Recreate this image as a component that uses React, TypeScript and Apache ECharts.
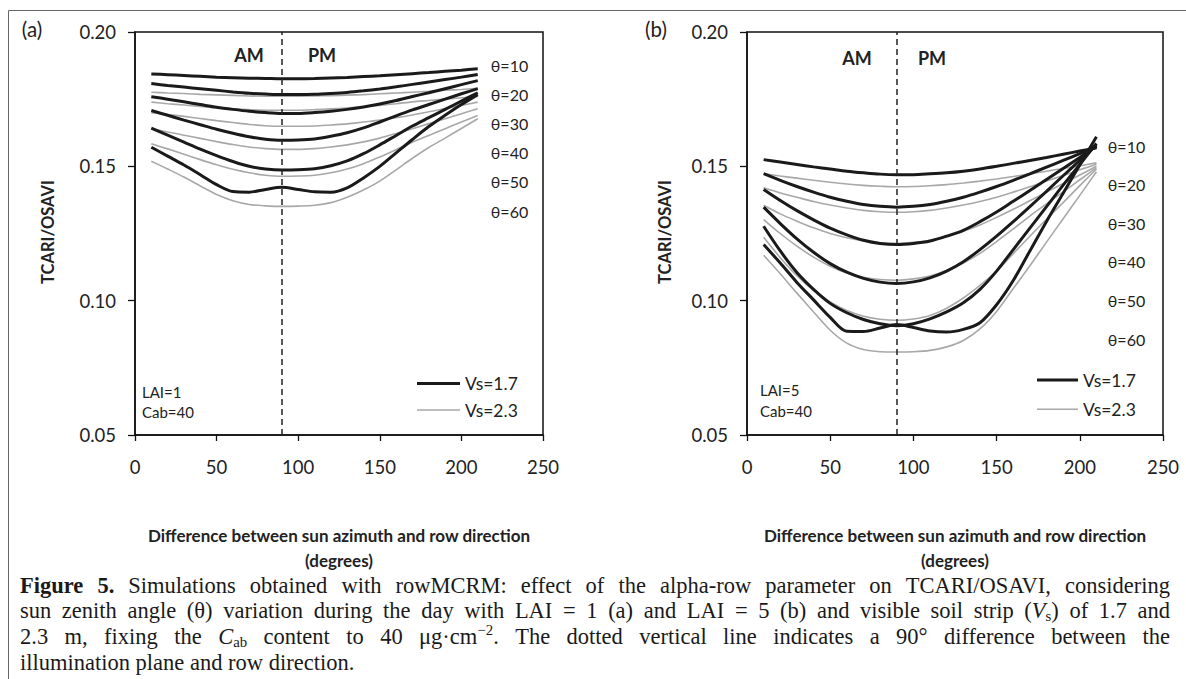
import React, { useEffect, useRef } from 'react';
import * as echarts from 'echarts';

// Difference between sun azimuth and row direction (degrees)
const ANGLES = [10, 20, 30, 40, 50, 60, 70, 80, 90, 100, 110, 120, 130, 140, 150, 160, 170, 180, 190, 200, 210];
const THETA_LABELS = ['θ=10', 'θ=20', 'θ=30', 'θ=40', 'θ=50', 'θ=60'];
const VS_LABELS = ['Vs=1.7', 'Vs=2.3'];
const DIVIDER_X = 90;

// Panel (a): LAI = 1, Cab = 40 ; Vs = 1.7 (black), theta = 10..60
const A_VS17 = [
  [0.1844, 0.1841, 0.1838, 0.1835, 0.1832, 0.1830, 0.1828, 0.1827, 0.1826, 0.1826, 0.1827, 0.1829, 0.1831, 0.1834, 0.1837, 0.1841, 0.1845, 0.1849, 0.1854, 0.1858, 0.1863],
  [0.1808, 0.1801, 0.1795, 0.1789, 0.1783, 0.1777, 0.1772, 0.1769, 0.1767, 0.1767, 0.1768, 0.1771, 0.1775, 0.1781, 0.1788, 0.1796, 0.1805, 0.1814, 0.1823, 0.1832, 0.1842],
  [0.1759, 0.1750, 0.1740, 0.1730, 0.1720, 0.1712, 0.1705, 0.1700, 0.1697, 0.1697, 0.1700, 0.1705, 0.1712, 0.1721, 0.1732, 0.1745, 0.1760, 0.1774, 0.1789, 0.1804, 0.1819],
  [0.1708, 0.1690, 0.1672, 0.1655, 0.1638, 0.1623, 0.1610, 0.1601, 0.1597, 0.1598, 0.1602, 0.1612, 0.1625, 0.1643, 0.1665, 0.1688, 0.1710, 0.1730, 0.1750, 0.1770, 0.1789],
  [0.1642, 0.1616, 0.1590, 0.1564, 0.1540, 0.1518, 0.1500, 0.1490, 0.1486, 0.1487, 0.1491, 0.1502, 0.1520, 0.1547, 0.1580, 0.1615, 0.1650, 0.1681, 0.1712, 0.1743, 0.1774],
  [0.1571, 0.1538, 0.1505, 0.1469, 0.1432, 0.1406, 0.1404, 0.1414, 0.1422, 0.1414, 0.1405, 0.1404, 0.1420, 0.1457, 0.1500, 0.1550, 0.1600, 0.1648, 0.1690, 0.1730, 0.1767],
];
// Panel (a): Vs = 2.3 (grey)
const A_VS23 = [
  [0.1776, 0.1773, 0.1771, 0.1768, 0.1766, 0.1764, 0.1762, 0.1761, 0.1761, 0.1761, 0.1762, 0.1763, 0.1765, 0.1767, 0.1770, 0.1773, 0.1776, 0.1779, 0.1783, 0.1786, 0.1790],
  [0.1739, 0.1733, 0.1728, 0.1723, 0.1718, 0.1714, 0.1711, 0.1709, 0.1709, 0.1709, 0.1711, 0.1714, 0.1717, 0.1722, 0.1727, 0.1733, 0.1740, 0.1745, 0.1750, 0.1755, 0.1760],
  [0.1700, 0.1693, 0.1686, 0.1678, 0.1670, 0.1663, 0.1656, 0.1651, 0.1649, 0.1649, 0.1650, 0.1654, 0.1658, 0.1665, 0.1672, 0.1681, 0.1691, 0.1703, 0.1715, 0.1727, 0.1739],
  [0.1640, 0.1628, 0.1616, 0.1604, 0.1592, 0.1581, 0.1572, 0.1566, 0.1563, 0.1563, 0.1566, 0.1572, 0.1580, 0.1591, 0.1605, 0.1622, 0.1640, 0.1659, 0.1677, 0.1696, 0.1714],
  [0.1584, 0.1565, 0.1545, 0.1525, 0.1506, 0.1489, 0.1476, 0.1467, 0.1463, 0.1464, 0.1467, 0.1476, 0.1490, 0.1510, 0.1535, 0.1562, 0.1590, 0.1615, 0.1640, 0.1665, 0.1689],
  [0.1519, 0.1490, 0.1460, 0.1427, 0.1395, 0.1372, 0.1358, 0.1353, 0.1351, 0.1352, 0.1355, 0.1365, 0.1385, 0.1412, 0.1445, 0.1487, 0.1530, 0.1570, 0.1605, 0.1641, 0.1677],
];
// Panel (b): LAI = 5, Cab = 40 ; Vs = 1.7 (black)
const B_VS17 = [
  [0.1525, 0.1516, 0.1507, 0.1498, 0.1490, 0.1482, 0.1476, 0.1471, 0.1469, 0.1469, 0.1472, 0.1476, 0.1482, 0.1490, 0.1500, 0.1511, 0.1522, 0.1533, 0.1545, 0.1557, 0.1569],
  [0.1473, 0.1448, 0.1425, 0.1404, 0.1385, 0.1370, 0.1358, 0.1351, 0.1348, 0.1351, 0.1358, 0.1370, 0.1385, 0.1404, 0.1425, 0.1448, 0.1472, 0.1497, 0.1522, 0.1547, 0.1572],
  [0.1414, 0.1373, 0.1335, 0.1301, 0.1270, 0.1245, 0.1225, 0.1213, 0.1209, 0.1213, 0.1222, 0.1240, 0.1262, 0.1294, 0.1330, 0.1370, 0.1410, 0.1451, 0.1492, 0.1533, 0.1575],
  [0.1348, 0.1287, 0.1230, 0.1180, 0.1138, 0.1106, 0.1083, 0.1069, 0.1064, 0.1070, 0.1085, 0.1110, 0.1145, 0.1190, 0.1240, 0.1294, 0.1350, 0.1407, 0.1465, 0.1522, 0.1580],
  [0.1277, 0.1185, 0.1105, 0.1042, 0.0990, 0.0955, 0.0930, 0.0914, 0.0907, 0.0914, 0.0932, 0.0958, 0.0992, 0.1042, 0.1110, 0.1190, 0.1270, 0.1350, 0.1430, 0.1507, 0.1585],
  [0.1209, 0.1140, 0.1068, 0.1003, 0.0938, 0.0886, 0.0885, 0.0898, 0.0911, 0.0900, 0.0887, 0.0883, 0.0893, 0.0918, 0.0985, 0.1075, 0.1185, 0.1295, 0.1400, 0.1505, 0.1610],
];
// Panel (b): Vs = 2.3 (grey)
const B_VS23 = [
  [0.1473, 0.1464, 0.1456, 0.1448, 0.1441, 0.1434, 0.1429, 0.1426, 0.1424, 0.1425, 0.1428, 0.1432, 0.1438, 0.1445, 0.1453, 0.1462, 0.1472, 0.1482, 0.1492, 0.1502, 0.1513],
  [0.1420, 0.1401, 0.1385, 0.1369, 0.1356, 0.1345, 0.1336, 0.1331, 0.1329, 0.1331, 0.1336, 0.1345, 0.1356, 0.1369, 0.1385, 0.1404, 0.1424, 0.1445, 0.1466, 0.1487, 0.1508],
  [0.1355, 0.1323, 0.1296, 0.1271, 0.1250, 0.1234, 0.1222, 0.1215, 0.1213, 0.1217, 0.1225, 0.1239, 0.1258, 0.1282, 0.1310, 0.1340, 0.1372, 0.1404, 0.1436, 0.1468, 0.1500],
  [0.1302, 0.1250, 0.1203, 0.1162, 0.1128, 0.1103, 0.1087, 0.1079, 0.1076, 0.1081, 0.1092, 0.1112, 0.1140, 0.1176, 0.1220, 0.1267, 0.1315, 0.1360, 0.1405, 0.1450, 0.1495],
  [0.1236, 0.1160, 0.1093, 0.1038, 0.0995, 0.0963, 0.0942, 0.0931, 0.0927, 0.0932, 0.0945, 0.0972, 0.1010, 0.1057, 0.1110, 0.1175, 0.1240, 0.1303, 0.1365, 0.1428, 0.1490],
  [0.1169, 0.1100, 0.1028, 0.0958, 0.0890, 0.0842, 0.0818, 0.0810, 0.0809, 0.0810, 0.0815, 0.0828, 0.0852, 0.0895, 0.0960, 0.1045, 0.1130, 0.1218, 0.1305, 0.1392, 0.1480],
];

type Seg = [string, string];
type Word = string | Seg[];
const CAPTION: { justify: boolean; words: Word[] }[] = [
  {
    justify: true,
    words: [[['Figure', 'b']], [['5.', 'b']], 'Simulations', 'obtained', 'with', 'rowMCRM:', 'effect', 'of', 'the',
      'alpha-row', 'parameter', 'on', 'TCARI/OSAVI,', 'considering'],
  },
  {
    justify: true,
    words: ['sun', 'zenith', 'angle', '(θ)', 'variation', 'during', 'the', 'day', 'with', 'LAI', '=', '1', '(a)', 'and',
      'LAI', '=', '5', '(b)', 'and', 'visible', 'soil', 'strip', [['(', ''], ['V', 'i'], ['s', 'sub'], [')', '']], 'of', '1.7', 'and'],
  },
  {
    justify: true,
    words: ['2.3', 'm,', 'fixing', 'the', [['C', 'i'], ['ab', 'sub']], 'content', 'to', '40', [['μg·cm', ''], ['−2', 'sup'], ['.', '']],
      'The', 'dotted', 'vertical', 'line', 'indicates', 'a', '90°', 'difference', 'between', 'the'],
  },
  { justify: false, words: ['illumination', 'plane', 'and', 'row', 'direction.'] },
];

const BLACK = '#1a1a1a';
const GREY = '#a8a8a8';
const SANS = 'Lato, "Open Sans", sans-serif';
const SERIF = '"Liberation Serif", "DejaVu Serif", serif';

export default function App() {
  const ref = useRef<HTMLDivElement>(null);

  useEffect(() => {
    const chart = echarts.init(ref.current!, null, { renderer: 'svg' });

    const grids = [
      { left: 135, top: 32, width: 408, height: 403 },
      { left: 747, top: 32, width: 416, height: 403 },
    ];

    const series: any[] = [];
    const addPanel = (idx: number, black: number[][], grey: number[][]) => {
      grey.forEach((vals, k) => {
        series.push({
          type: 'line', name: VS_LABELS[1], xAxisIndex: idx, yAxisIndex: idx,
          data: ANGLES.map((a, i) => [a, vals[i]]), smooth: 0.3, showSymbol: false, symbol: 'none',
          lineStyle: { color: GREY, width: 1.6 }, itemStyle: { color: GREY }, z: 2, silent: true,
          ...(k === 0 ? {
            markLine: {
              silent: true, symbol: ['none', 'none'], label: { show: false },
              lineStyle: { color: '#222', type: [6, 4], width: 1.5 },
              data: [{ xAxis: DIVIDER_X }],
            },
          } : {}),
        });
      });
      black.forEach((vals) => {
        series.push({
          type: 'line', name: VS_LABELS[0], xAxisIndex: idx, yAxisIndex: idx,
          data: ANGLES.map((a, i) => [a, vals[i]]), smooth: 0.3, showSymbol: false, symbol: 'none',
          lineStyle: { color: BLACK, width: 3 }, itemStyle: { color: BLACK }, z: 3, silent: true,
        });
      });
    };
    addPanel(0, A_VS17, A_VS23);
    addPanel(1, B_VS17, B_VS23);

    const xAxis = [0, 1].map((i) => ({
      type: 'value', gridIndex: i, min: 0, max: 250, interval: 50,
      axisLine: { show: true, lineStyle: { color: '#111', width: 1.5 } },
      axisTick: { show: true, inside: false, length: 6, lineStyle: { color: '#111', width: 1.3 } },
      splitLine: { show: false },
      axisLabel: { color: '#222', fontFamily: SANS, fontSize: 18.5, margin: 22 },
    }));
    const yAxis = [0, 1].map((i) => ({
      type: 'value', gridIndex: i, min: 0.05, max: 0.2, interval: 0.05,
      axisLine: { show: true, lineStyle: { color: '#111', width: 1.5 } },
      axisTick: { show: true, inside: false, length: 7, lineStyle: { color: '#111', width: 1.3 } },
      splitLine: { show: false },
      axisLabel: { color: '#222', fontFamily: SANS, fontSize: 18.5, margin: 19, formatter: (v: number) => v.toFixed(2) },
    }));

    const txt = (text: string, x: number, y: number, size: number, opts: any = {}) => ({
      type: 'text', x, y, silent: true, rotation: opts.rotation || 0,
      style: {
        text, fill: opts.fill || '#222', fontSize: size, fontFamily: opts.family || SANS,
        fontWeight: opts.weight || 'normal', fontStyle: opts.style || 'normal',
        textAlign: opts.align || 'center', textVerticalAlign: 'middle',
      },
    });

    const graphics: any[] = [];
    // figure frame
    graphics.push({ type: 'line', shape: { x1: 8.5, y1: 10.5, x2: 8.5, y2: 679 }, style: { stroke: '#666', lineWidth: 1 }, silent: true });
    graphics.push({ type: 'line', shape: { x1: 8.5, y1: 10.5, x2: 1186, y2: 10.5 }, style: { stroke: '#666', lineWidth: 1 }, silent: true });

    graphics.push(txt('(a)', 32, 29, 20.5));
    graphics.push(txt('(b)', 656, 29, 20.5));

    const panelText = [
      { yTitleX: 48, cx: 339, am: 249, pm: 322, amY: 55, thX: 509.5, thY: 65, thStep: 29.2,
        leg: [417, 460, 465, 383.5, 410], lai: 'LAI=1', laiX: 142, laiY: 391.5 },
      { yTitleX: 665, cx: 955, am: 857, pm: 932, amY: 58, thX: 1126.5, thY: 146, thStep: 38.6,
        leg: [1037, 1078, 1083, 380, 409.3], lai: 'LAI=5', laiX: 760, laiY: 390 },
    ];
    panelText.forEach((p) => {
      graphics.push(txt('TCARI/OSAVI', p.yTitleX, 232, 16.5, { weight: 'bold', rotation: Math.PI / 2 }));
      graphics.push(txt('Difference between sun azimuth and row direction', p.cx, 535, 17, { weight: 'bold' }));
      graphics.push(txt('(degrees)', p.cx, 560, 17, { weight: 'bold' }));
      graphics.push(txt('AM', p.am, p.amY, 18, { weight: 'bold' }));
      graphics.push(txt('PM', p.pm, p.amY, 18, { weight: 'bold' }));
      THETA_LABELS.forEach((t, k) => graphics.push(txt(t, p.thX, p.thY + k * p.thStep, 16)));
      const [lx1, lx2, tx, ly1, ly2] = p.leg;
      graphics.push({ type: 'line', shape: { x1: lx1, y1: ly1, x2: lx2, y2: ly1 }, style: { stroke: BLACK, lineWidth: 3 }, silent: true });
      graphics.push({ type: 'line', shape: { x1: lx1, y1: ly2, x2: lx2, y2: ly2 }, style: { stroke: GREY, lineWidth: 1.6 }, silent: true });
      graphics.push(txt(VS_LABELS[0], tx, ly1, 17.5, { align: 'left' }));
      graphics.push(txt(VS_LABELS[1], tx, ly2, 17.5, { align: 'left' }));
      graphics.push(txt(p.lai, p.laiX, p.laiY, 15, { align: 'left' }));
      graphics.push(txt('Cab=40', p.laiX, p.laiY + 20.7, 15, { align: 'left' }));
    });

    // caption, justified
    const ctx = document.createElement('canvas').getContext('2d')!;
    const CAP_SIZE = 22.5;
    const CAP_L = 20;
    const CAP_R = 1170;
    const CAP_Y0 = 585;
    const CAP_LH = 25.8;
    const segFont = (kind: string) => {
      const small = kind === 'sub' || kind === 'sup';
      return {
        size: small ? CAP_SIZE * 0.66 : CAP_SIZE,
        weight: kind === 'b' ? 'bold' : 'normal',
        style: kind === 'i' ? 'italic' : 'normal',
        dy: kind === 'sub' ? 5 : kind === 'sup' ? -7 : 0,
      };
    };
    const measure = (t: string, kind: string) => {
      const f = segFont(kind);
      ctx.font = `${f.style} ${f.weight} ${f.size}px ${SERIF}`;
      return ctx.measureText(t).width;
    };
    CAPTION.forEach((line, li) => {
      const words: Seg[][] = line.words.map((w) => (typeof w === 'string' ? [[w, ''] as Seg] : w));
      const widths = words.map((segs) => segs.reduce((s, [t, k]) => s + measure(t, k), 0));
      const total = widths.reduce((a, b) => a + b, 0);
      const gap = line.justify ? Math.max(3, (CAP_R - CAP_L - total) / (words.length - 1)) : measure(' ', '');
      let x = CAP_L;
      const y = CAP_Y0 + li * CAP_LH;
      words.forEach((segs) => {
        segs.forEach(([t, k]) => {
          const f = segFont(k);
          graphics.push(txt(t, x, y + f.dy, f.size, { align: 'left', family: SERIF, weight: f.weight, style: f.style, fill: '#1a1a1a' }));
          x += measure(t, k);
        });
        x += gap;
      });
    });

    chart.setOption({
      animation: false,
      backgroundColor: '#fff',
      grid: grids.map((g) => ({ ...g, show: true, borderColor: '#111', borderWidth: 1.5, backgroundColor: 'transparent', containLabel: false })),
      xAxis,
      yAxis,
      series,
      graphic: graphics,
    });

    return () => chart.dispose();
  }, []);

  return <div ref={ref} style={{ position: 'fixed', left: 0, top: 0, width: 1186, height: 679, background: '#fff' }} />;
}
